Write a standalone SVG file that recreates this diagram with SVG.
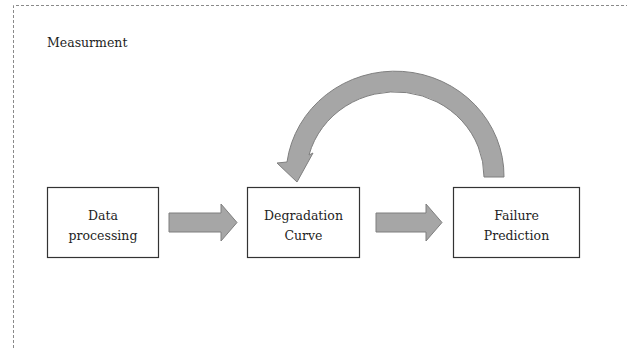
<svg xmlns="http://www.w3.org/2000/svg" width="627" height="348" viewBox="0 0 627 348">
  <style>
    .frame { fill: none; stroke: #8a8a8a; stroke-width: 1; stroke-dasharray: 3 2; }
    .box { fill: #ffffff; stroke: #333333; stroke-width: 1.2; }
    .label { font-family: "DejaVu Serif", "Liberation Serif", serif; font-size: 12.5px; fill: #1e1e1e; text-anchor: middle; }
    .title { font-family: "DejaVu Serif", "Liberation Serif", serif; font-size: 12.5px; fill: #1e1e1e; }
    .flow { fill: #a6a6a6; stroke: #7f7f7f; stroke-width: 1; stroke-linejoin: miter; }
  </style>
  <rect width="627" height="348" fill="#ffffff"/>

  <!-- outer dashed frame -->
  <path class="frame" d="M13.5,348 V5.5 H627"/>
  <text class="title" x="47" y="47">Measurment</text>

  <g id="data-processing">
    <rect class="box" x="47.5" y="187.5" width="111" height="70"/>
    <text class="label" x="103" y="220">Data</text>
    <text class="label" x="103" y="240">processing</text>
  </g>

  <g id="degradation-curve">
    <rect class="box" x="247.5" y="187.5" width="112" height="70"/>
    <text class="label" x="303.5" y="220">Degradation</text>
    <text class="label" x="303.5" y="240">Curve</text>
  </g>

  <g id="failure-prediction">
    <rect class="box" x="453.5" y="187.5" width="126" height="70"/>
    <text class="label" x="516.5" y="220">Failure</text>
    <text class="label" x="516.5" y="240">Prediction</text>
  </g>

  <g id="connectors">
    <!-- block arrow: data processing -> degradation curve -->
    <path class="flow" d="M169,213 H221 V204 L237,222.5 L221,241 V232 H169 Z"/>
    <!-- block arrow: degradation curve -> failure prediction -->
    <path class="flow" d="M376,213 H426 V204 L442,222.5 L426,241 V232 H376 Z"/>
    <!-- curved feedback arrow: failure prediction -> degradation curve -->
    <path class="flow" d="M484,177 A89,85 0 0 0 309,155 L313,153 L297,182 L277,163 L287,162 A109,105 0 0 1 504,177 Z"/>
  </g>
</svg>
